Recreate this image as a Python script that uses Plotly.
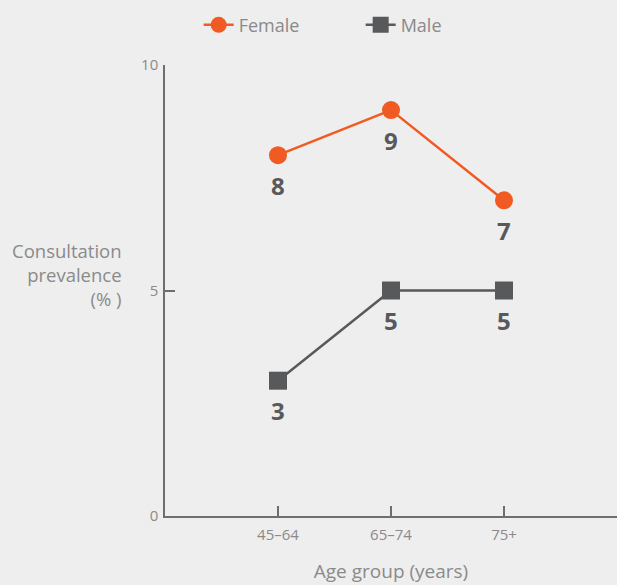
import plotly.graph_objects as go

categories = ["45–64", "65–74", "75+"]
female = [8, 9, 7]
male = [3, 5, 5]
y_ticks = [0, 5, 10]

ORANGE = "#f15a22"
DARK = "#58595b"
AXIS = "#6d6e71"
TXT = "#8a8a8a"
BG = "#eeeeee"
FONT = "Open Sans"

xpos = list(range(len(categories)))

fig = go.Figure()
fig.add_trace(go.Scatter(
    x=xpos, y=female, name="Female", mode="lines+markers",
    line=dict(color=ORANGE, width=2.5),
    marker=dict(symbol="circle", size=18, color=ORANGE),
))
fig.add_trace(go.Scatter(
    x=xpos, y=male, name="Male", mode="lines+markers",
    line=dict(color=DARK, width=2.5),
    marker=dict(symbol="square", size=18, color=DARK),
))

for series in (female, male):
    for xi, v in zip(xpos, series):
        fig.add_annotation(x=xi, y=v, text=f"<b>{v}</b>", showarrow=False,
                           yshift=-30, font=dict(family=FONT, size=24, color=DARK))

fig.add_annotation(xref="paper", yref="paper", x=-0.09, y=0.535, xanchor="right",
                   yanchor="middle", align="right", showarrow=False,
                   text="Consultation<br>prevalence<br>(% )",
                   font=dict(family=FONT, size=18.5, color=TXT))

fig.update_layout(
    width=617, height=585,
    paper_bgcolor=BG, plot_bgcolor=BG,
    margin=dict(l=165, r=0, t=65, b=69, autoexpand=False),
    font=dict(family=FONT, color=TXT),
    showlegend=True,
    legend=dict(orientation="h", xref="container", yref="container",
                x=0.322, xanchor="left", y=0.957, yanchor="middle",
                entrywidth=117,
                font=dict(family=FONT, size=18, color=TXT),
                bgcolor="rgba(0,0,0,0)"),
    xaxis=dict(
        range=[-1, len(categories)],
        tickvals=[-1] + xpos + [len(categories)],
        ticktext=[""] + categories + [""],
        ticks="inside", ticklen=10, tickcolor=AXIS, tickwidth=1.5,
        showline=True, linecolor=AXIS, linewidth=1.5,
        showgrid=False, zeroline=False, ticklabelstandoff=4,
        tickfont=dict(family=FONT, size=15, color=TXT),
        title=dict(text="Age group (years)", font=dict(family=FONT, size=19, color=TXT), standoff=22),
    ),
    yaxis=dict(
        range=[0, 10], tickvals=y_ticks,
        ticks="inside", ticklen=10, tickcolor=AXIS, tickwidth=1.5,
        showline=True, linecolor=AXIS, linewidth=1.5,
        showgrid=False, zeroline=False, ticklabelstandoff=2,
        tickfont=dict(family=FONT, size=15, color=TXT),
    ),
)

fig.write_html("out.html", config={"displayModeBar": False},
               post_script="document.body.style.margin='0';")
